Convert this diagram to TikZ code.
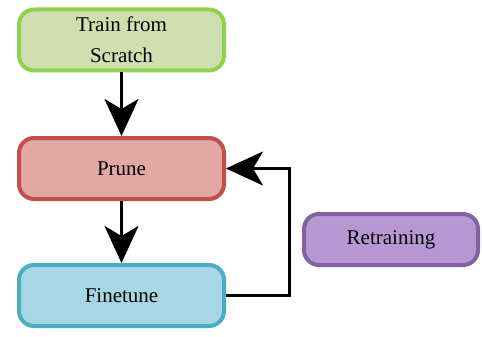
\documentclass[tikz,border=0pt]{standalone}
\usepackage{fontspec}
\newfontfamily\boxfont{Liberation Serif}[Ligatures=TeX]
\usetikzlibrary{arrows.meta}
\begin{document}
\begin{tikzpicture}[x=1pt,y=-1pt,
  stage/.style={rounded corners=15pt, line width=4pt, minimum width=205pt, minimum height=61pt,
    align=center, font=\fontsize{21}{31}\selectfont\boxfont, inner sep=0pt},
  flow/.style={line width=3pt, -{Stealth[length=37pt,width=34pt,inset=10pt]}}
]
\definecolor{trainfill}{HTML}{D0DFB0}
\definecolor{traindraw}{HTML}{92D050}
\definecolor{prunefill}{HTML}{E2A8A4}
\definecolor{prunedraw}{HTML}{C0504D}
\definecolor{finefill}{HTML}{A7D7E4}
\definecolor{finedraw}{HTML}{4BACC6}
\definecolor{retfill}{HTML}{B898D2}
\definecolor{retdraw}{HTML}{8064A2}
\useasboundingbox (0,0) rectangle (482,337);
\node[stage, fill=trainfill, draw=traindraw] (train) at (121.5,40) {Train from\\Scratch};
\node[stage, fill=prunefill, draw=prunedraw] (prune) at (121.5,168.5) {Prune};
\node[stage, fill=finefill, draw=finedraw] (fine) at (121.5,295.5) {Finetune};
\node[stage, fill=retfill, draw=retdraw, minimum width=174pt, minimum height=51pt] (ret) at (391,239.5) {Retraining};
\coordinate (loop) at (289,0);
\draw[flow] (train.south) -- (prune.north);
\draw[flow] (prune.south) -- (fine.north);
\draw[flow] (fine.east) -- (fine.east -| loop) |- (prune.east);
\end{tikzpicture}
\end{document}
